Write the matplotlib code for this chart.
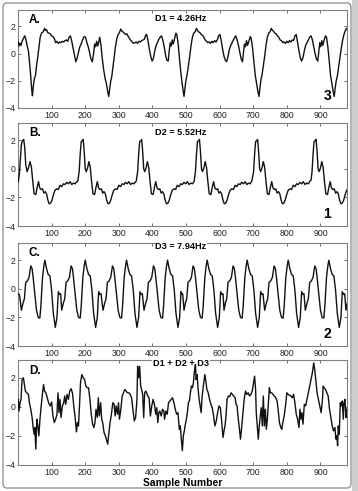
import matplotlib
matplotlib.use("Agg")
import matplotlib.pyplot as plt
from matplotlib.patches import FancyBboxPatch, Rectangle

plt.rcParams['font.family'] = ['Liberation Sans', 'DejaVu Sans']

# D1 = 4.26Hz (panel A)
d1_x = [1, 3, 6, 9, 12, 16, 20, 23, 27, 31, 35, 38, 41, 43, 46, 49, 52, 55, 58, 62, 66, 70, 75, 79,
        82, 85, 88, 92, 96, 100, 104, 108, 112, 116, 120, 124, 128, 132, 136, 140, 144, 148, 152, 156,
        160, 164, 168, 172, 176, 180, 184, 188, 192, 197, 201, 205, 209, 213, 217, 221, 225, 228, 231,
        234, 237, 240, 243, 247, 251, 255, 259, 263, 267, 270, 273, 276, 279, 282, 286, 290, 294, 298,
        302, 306, 309, 312, 316, 320, 324, 328, 332, 336, 340, 344, 348, 352, 356, 360, 364, 368, 372,
        376, 380, 383, 387, 391, 395, 399, 403, 407, 411, 415, 419, 423, 427, 431, 435, 439, 443, 447,
        450, 453, 456, 459, 462, 466, 470, 473, 477, 481, 485, 489, 494, 497, 500, 503, 507, 511, 515,
        519, 523, 527, 531, 534, 537, 541, 545, 549, 553, 557, 561, 565, 569, 573, 577, 581, 585, 589,
        593, 597, 601, 605, 609, 613, 617, 621, 625, 629, 633, 637, 641, 645, 648, 652, 656, 660, 664,
        668, 671, 674, 677, 680, 683, 687, 691, 694, 698, 702, 706, 710, 714, 717, 720, 723, 726, 730,
        734, 738, 742, 746, 750, 754, 757, 760, 764, 768, 772, 776, 780, 784, 788, 792, 796, 800, 804,
        808, 812, 816, 820, 824, 828, 832, 836, 840, 844, 848, 852, 856, 860, 864, 868, 872, 876, 880,
        884, 888, 892, 895, 898, 901, 904, 907, 911, 915, 918, 922, 926, 930, 934, 938, 941, 944, 947,
        950, 954, 958, 962, 966, 970, 974, 978, 980]
d1_y = [0.85, 0.55, 0.75, 0.6, 0.9, 1.1, 1.3, 1.1, 0.6, 0.2, -0.8, -1.7, -2.7, -3.1, -2.3, -1.8, -1.6,
        -0.9, -0.4, 0.4, 1.2, 1.5, 1.6, 1.85, 1.7, 1.75, 1.55, 1.5, 1.45, 1.3, 1.25, 1.1, 0.8, 0.9, 0.75,
        0.85, 0.8, 0.9, 0.85, 0.95, 1.0, 0.9, 1.2, 1.3, 0.9, 0.4, -0.1, -0.6, -0.35, 0.1, 0.5, 0.7, 1.0,
        1.25, 1.2, 0.8, 0.5, 0.1, -0.4, -0.6, 0.0, 0.7, 0.5, 0.9, 0.55, 0.8, 1.2, 0.6, -0.4, -1.2, -1.8,
        -2.2, -2.8, -3.15, -2.6, -2.0, -1.7, -1.1, -0.3, 0.5, 1.1, 1.4, 1.55, 1.8, 1.65, 1.6, 1.5, 1.4,
        1.45, 1.25, 1.1, 0.95, 0.85, 0.75, 0.8, 0.85, 0.75, 0.9, 0.85, 0.95, 1.0, 1.05, 1.35, 1.4, 0.9,
        0.3, -0.2, -0.55, -0.35, 0.2, 0.6, 0.8, 1.05, 1.2, 1.3, 1.0, 0.5, -0.1, -0.5, -0.55, 0.2, 0.8,
        0.55, 1.0, 0.7, 1.1, 1.5, 1.35, 0.6, -0.5, -1.5, -2.3, -3.15, -2.5, -1.9, -1.6, -0.9, -0.2, 0.6,
        1.2, 1.5, 1.6, 1.85, 1.7, 1.6, 1.55, 1.4, 1.35, 1.2, 1.0, 0.9, 0.8, 0.85, 0.75, 0.9, 0.8, 0.95,
        0.85, 1.0, 1.3, 1.4, 0.9, 0.3, -0.2, -0.5, -0.6, -0.2, 0.3, 0.6, 0.8, 1.0, 1.2, 1.3, 1.0, 0.6,
        0.1, -0.4, -0.6, 0.1, 0.7, 0.5, 0.95, 0.6, 0.9, 1.25, 1.1, 0.4, -0.6, -1.6, -2.2, -2.8, -3.15,
        -2.5, -1.9, -1.6, -0.9, -0.2, 0.6, 1.2, 1.5, 1.6, 1.85, 1.7, 1.65, 1.5, 1.45, 1.3, 1.2, 1.0,
        0.95, 0.8, 0.85, 0.75, 0.9, 0.8, 0.95, 0.85, 1.0, 0.95, 1.3, 1.4, 0.8, 0.2, -0.3, -0.55, -0.3,
        0.2, 0.6, 0.8, 1.0, 1.2, 1.3, 1.0, 0.5, 0.0, -0.4, -0.55, 0.1, 0.8, 0.5, 0.95, 0.6, 1.0, 1.3,
        1.2, 0.5, -0.5, -1.6, -2.2, -2.8, -3.15, -2.5, -2.0, -1.7, -1.0, -0.3, 0.4, 1.0, 1.4, 1.7, 1.85,
        1.8]

# D2 = 5.52Hz (panel B)
d2_x = [1, 4, 7, 10, 13, 17, 20, 23, 27, 31, 36, 40, 44, 48, 53, 57, 61, 65, 69, 73, 77, 81, 85, 89,
        93, 97, 101, 105, 110, 115, 120, 125, 130, 135, 140, 145, 150, 155, 160, 165, 170, 175,
        178, 182, 185, 188, 191, 194, 197, 200, 203, 207, 211, 215, 219, 223, 228, 232, 236, 240, 244,
        248, 252, 256, 260, 264, 268, 272, 276, 280, 285, 290, 295, 300, 305, 310, 315, 320, 325, 330,
        335, 340, 345, 350,
        352, 356, 359, 362, 365, 368, 371, 374, 377, 381, 385, 389, 393, 397, 402, 406, 410, 414, 418,
        422, 426, 430, 434, 438, 442, 446, 450, 454, 459, 464, 469, 474, 479, 484, 489, 494, 499, 504,
        509, 514, 519, 524,
        528, 531, 534, 537, 540, 543, 546, 549, 553, 557, 561, 565, 569, 574, 578, 582, 586, 590, 594,
        598, 602, 606, 610, 614, 618, 622, 626, 631, 636, 641, 646, 651, 656, 661, 666, 671, 676, 681,
        686, 691, 696,
        701, 704, 707, 710, 713, 716, 719, 722, 726, 730, 734, 738, 742, 747, 751, 755, 759, 763, 767,
        771, 775, 779, 783, 787, 791, 795, 799, 804, 809, 814, 819, 824, 829, 834, 839, 844, 849, 854,
        859, 864, 869,
        872, 875, 878, 881, 884, 887, 890, 893, 896, 900, 904, 908, 912, 916, 921, 925, 929, 933, 937,
        941, 945, 949, 953, 957, 961, 965, 969, 973, 978, 980]
d2_y = [-0.9, -0.4, 0.6, 1.7, 1.95, 2.05, 1.5, 0.3, -0.2, 0.05, 0.5, 0.1, -0.9, -1.75, -1.8, -1.3,
        -0.9, -1.35, -1.45, -1.4, -1.7, -1.6, -1.75, -2.2, -2.45, -2.4, -2.2, -1.85, -1.5, -1.4, -1.45,
        -1.15, -1.25, -1.05, -1.1, -0.95, -1.05, -0.9, -1.1, -1.0, -1.05, -0.9,
        -0.85, -0.2, 1.0, 1.9, 1.95, 2.05, 1.2, 0.0, -0.2, 0.05, 0.5, 0.1, -0.9, -1.75, -1.8, -1.3,
        -0.9, -1.35, -1.45, -1.4, -1.7, -1.6, -1.75, -2.2, -2.45, -2.4, -2.2, -1.85, -1.5, -1.4, -1.45,
        -1.15, -1.25, -1.05, -1.1, -0.95, -1.05, -0.9, -1.1, -1.0, -1.05, -0.9,
        -0.85, -0.2, 1.0, 1.9, 1.95, 2.05, 1.2, 0.0, -0.2, 0.05, 0.5, 0.1, -0.9, -1.75, -1.8, -1.3,
        -0.9, -1.35, -1.45, -1.4, -1.7, -1.6, -1.75, -2.2, -2.45, -2.4, -2.2, -1.85, -1.5, -1.4, -1.45,
        -1.15, -1.25, -1.05, -1.1, -0.95, -1.05, -0.9, -1.1, -1.0, -1.05, -0.9,
        -0.2, 1.0, 1.9, 1.95, 2.05, 1.2, 0.0, -0.2, 0.05, 0.5, 0.1, -0.9, -1.75, -1.8, -1.3, -0.9,
        -1.35, -1.45, -1.4, -1.7, -1.6, -1.75, -2.2, -2.45, -2.4, -2.2, -1.85, -1.5, -1.4, -1.45, -1.15,
        -1.25, -1.05, -1.1, -0.95, -1.05, -0.9, -1.1, -1.0, -1.05, -0.85,
        -0.2, 1.0, 1.9, 1.95, 2.05, 1.2, 0.0, -0.2, 0.05, 0.5, 0.1, -0.9, -1.75, -1.8, -1.3, -0.9,
        -1.35, -1.45, -1.4, -1.7, -1.6, -1.75, -2.2, -2.45, -2.4, -2.2, -1.85, -1.5, -1.4, -1.45, -1.15,
        -1.25, -1.05, -1.1, -0.95, -1.05, -0.9, -1.1, -1.0, -1.05, -0.85,
        -0.8, -0.2, 1.0, 1.9, 1.95, 2.05, 1.2, 0.0, -0.2, 0.05, 0.5, 0.1, -0.9, -1.75, -1.8, -1.3, -0.9,
        -1.35, -1.45, -1.4, -1.7, -1.6, -1.75, -2.2, -2.45, -2.4, -2.2, -1.85, -1.5, -1.45]

# D3 = 7.94Hz (panel C)
d3_x = [1, 4, 6,
        10, 15, 19, 23, 28, 33, 38, 42, 45, 50, 55, 60, 65, 68, 73, 77, 80, 85, 90, 95, 100, 105, 111,
        116, 120, 124, 127,
        130, 135, 139, 143, 148, 153, 158, 162, 165, 170, 175, 180, 185, 188, 193, 197, 200, 205, 210,
        215, 220, 225, 231, 236, 240, 244, 247,
        253, 258, 262, 266, 271, 276, 281, 285, 288, 293, 298, 303, 308, 311, 316, 320, 323, 328, 333,
        338, 343, 348, 354, 359, 363, 367, 370,
        375, 380, 384, 388, 393, 398, 403, 407, 410, 415, 420, 425, 430, 433, 438, 442, 445, 450, 455,
        460, 465, 470, 476, 481, 485, 488, 490,
        494, 498, 502, 506, 511, 516, 521, 525, 528, 533, 538, 543, 548, 551, 556, 560, 563, 568, 573,
        578, 583, 588, 594, 599, 603, 607, 610,
        613, 617, 621, 625, 630, 635, 640, 644, 647, 652, 657, 662, 667, 670, 675, 679, 682, 687, 692,
        697, 702, 707, 713, 718, 722, 726, 729,
        734, 739, 743, 747, 752, 757, 762, 766, 769, 774, 779, 784, 789, 792, 797, 801, 804, 809, 814,
        819, 824, 829, 835, 840, 844, 848, 851,
        855, 860, 864, 868, 873, 878, 883, 887, 890, 895, 900, 905, 910, 913, 918, 922, 925, 930, 935,
        940, 945, 950, 956, 961, 965, 969, 972, 976, 980]
d3_y = [-0.35, -0.4, -0.7,
        -1.5, -1.0, -0.7, 0.45, 0.55, 0.8, 1.6, 1.4, 0.8, -0.35, -1.5, -2.0, -2.05, -1.25, 0.8, 1.6,
        2.0, 1.4, 1.0, 0.9, -0.1, -1.7, -2.7, -2.0, -0.2, -0.4, -0.35,
        -1.5, -1.0, -0.7, 0.45, 0.55, 0.8, 1.6, 1.4, 0.8, -0.35, -1.5, -2.0, -2.05, -1.25, 0.8, 1.6,
        2.0, 1.4, 1.0, 0.9, -0.1, -1.7, -2.7, -2.0, -0.2, -0.4, -0.35,
        -1.5, -1.0, -0.7, 0.45, 0.55, 0.8, 1.6, 1.4, 0.8, -0.35, -1.5, -2.0, -2.05, -1.25, 0.8, 1.6,
        2.0, 1.4, 1.0, 0.9, -0.1, -1.7, -2.7, -2.0, -0.2, -0.4, -0.35,
        -1.5, -1.0, -0.7, 0.45, 0.55, 0.8, 1.6, 1.4, 0.8, -0.35, -1.5, -2.0, -2.05, -1.25, 0.8, 1.6,
        2.0, 1.4, 1.0, 0.9, -0.1, -1.7, -2.7, -2.0, -0.2, -0.4, -0.35,
        -1.5, -1.0, -0.7, 0.45, 0.55, 0.8, 1.6, 1.4, 0.8, -0.35, -1.5, -2.0, -2.05, -1.25, 0.8, 1.6,
        2.0, 1.4, 1.0, 0.9, -0.1, -1.7, -2.7, -2.0, -0.2, -0.4, -0.35,
        -1.5, -1.0, -0.7, 0.45, 0.55, 0.8, 1.6, 1.4, 0.8, -0.35, -1.5, -2.0, -2.05, -1.25, 0.8, 1.6,
        2.0, 1.4, 1.0, 0.9, -0.1, -1.7, -2.7, -2.0, -0.2, -0.4, -0.35,
        -1.5, -1.0, -0.7, 0.45, 0.55, 0.8, 1.6, 1.4, 0.8, -0.35, -1.5, -2.0, -2.05, -1.25, 0.8, 1.6,
        2.0, 1.4, 1.0, 0.9, -0.1, -1.7, -2.7, -2.0, -0.2, -0.4, -0.35,
        -1.5, -1.0, -0.7, 0.45, 0.55, 0.8, 1.6, 1.4, 0.8, -0.35, -1.5, -2.0, -2.05, -1.25, 0.8, 1.6,
        2.0, 1.4, 1.0, 0.9, -0.1, -1.7, -2.7, -2.0, -0.2, -0.4, -0.35, -1.5, -1.0]

# D1 + D2 + D3 (panel D)
dsum_x = [1, 3, 6, 9, 12, 16, 19, 22, 26, 31, 34, 38, 42, 45, 48, 50, 53, 56, 59, 62, 65, 68, 72, 76,
          79, 83, 87, 91, 96, 100, 104, 108, 112, 116, 119, 122, 125, 128, 132, 136, 139, 142, 146,
          150, 154, 158, 162, 166, 170, 174, 177, 180, 183, 186, 190, 194, 198, 202, 206, 210, 214,
          218, 222, 226, 229, 232, 236, 239, 242, 246, 249, 252, 256, 260, 264, 267, 270, 274, 278,
          282, 286, 289, 292, 296, 299, 302, 306, 310, 314, 318, 322, 326, 330, 334, 338, 342, 346,
          350, 354, 356, 359, 362, 365, 368, 371, 374, 377, 380, 383, 386, 390, 394, 398, 402, 406,
          410, 413, 416, 419, 422, 426, 430, 434, 436, 440, 444, 448, 452, 456, 460, 464, 468, 472,
          476, 480, 483, 486, 489, 492, 495, 498, 501, 504, 507, 510, 513, 516, 519, 522, 525, 528,
          530, 533, 536, 539, 542, 545, 548, 552, 556, 559, 562, 566, 570, 574, 578, 582, 586, 590,
          594, 598, 602, 606, 610, 613, 616, 619, 622, 626, 630, 634, 638, 642, 646, 649, 652, 655,
          659, 662, 665, 669, 673, 677, 681, 685, 689, 693, 697, 701, 704, 707, 709, 712, 715, 718,
          721, 724, 727, 730, 733, 736, 739, 742, 745, 748, 751, 755, 759, 763, 767, 771, 775, 778,
          782, 785, 788, 792, 796, 800, 804, 808, 812, 816, 820, 824, 828, 832, 836, 839, 842, 845,
          848, 852, 856, 860, 864, 868, 872, 876, 880, 883, 886, 890, 894, 898, 902, 906, 908, 911,
          915, 919, 923, 927, 931, 935, 939, 943, 946, 949, 951, 953, 956, 959, 962, 965, 968, 970,
          973, 976, 978]
dsum_y = [0.5, -0.3, 0.27, 0.5, 1.86, 1.98, 1.52, 1.07, 0.95, 0.84, 0.27, -0.18, -0.75, -1.43, -1.89,
          -1.43, -2.91, -0.86, -1.32, -2.0, -0.98, -0.18, 0.73, 1.52, 1.07, 0.95, 0.61, 0.27, 0.05,
          0.32, -0.64, -1.09, -0.86, -0.52, 0.95, -0.41, 0.5, -0.75, 0.05, 0.27, 0.73, 0.16, 0.84, 0.5,
          1.07, 1.23, 0.95, 0.05, -0.75, -1.73, -1.09, -1.32, 0.05, 1.64, 2.2, 1.98, 1.86, 1.41, 1.3,
          1.3, 0.5, -0.52, -1.2, -1.43, -1.09, -0.18, -0.75, 0.61, -0.64, 0.27, -0.86, -1.09, -1.77,
          -2.0, -2.34, -2.57, -1.89, -1.09, -0.52, 0.27, 0.16, -0.64, 0.05, -0.52, 0.27, -0.86, -0.18,
          0.73, 0.95, 1.18, 1.07, 0.95, 0.95, 0.84, 0.61, -0.18, -0.98, -0.75, 0.5, 2.77, 1.98, 2.77,
          1.41, 1.18, 0.84, -0.75, 0.95, 1.07, 0.95, 0.73, 0.61, -0.64, 0.05, 0.5, 0.16, -0.52, -0.07,
          -1.09, -0.41, -0.3, -0.64, -0.18, -0.3, -0.86, -0.3, -0.52, 0.27, 0.39, 0.5, 0.61, 0.27,
          -0.18, -0.52, -0.41, -1.55, -1.32, -2.23, -3.02, -2.0, -1.66, -1.2, -0.86, -0.41, 0.27, 0.39,
          0.95, 1.41, 1.3, 1.64, 2.43, 2.89, 1.86, 2.2, 1.18, 0.5, 0.05, -0.41, 0.73, 1.52, 2.2, 1.75,
          1.18, 0.95, 0.5, 0.16, -0.07, -0.64, -1.32, -0.98, -0.41, 0.05, -0.07, -0.98, -2.11, -1.66,
          -1.32, -0.64, 0.5, 0.73, 0.68, 0.95, 0.84, 0.73, 0.61, 0.16, 0.05, -0.75, -1.55, -2.23, -1.55,
          -0.52, 0.5, 1.07, 0.84, 0.95, 0.73, 0.84, 1.07, 1.64, 2.09, 1.18, -0.41, -1.32, -2.23, -1.32,
          -0.64, -0.07, -1.32, 0.73, -1.32, -0.18, -1.55, -0.86, 0.27, 1.3, 0.95, 0.95, 0.84, 0.73,
          0.61, 0.39, -0.41, -1.09, -1.43, -1.55, -1.09, -0.64, 0.05, 0.95, 0.84, 0.77, 0.73, 0.61,
          0.84, 0.27, -0.52, -0.86, -1.43, -0.18, -0.86, -0.41, -1.2, 0.16, 0.05, 0.5, 0.95, 1.41, 1.86,
          2.32, 3.0, 2.55, 1.86, 0.95, 0.5, 0.05, -0.41, 0.5, 1.41, 1.3, 1.18, 0.95, 0.73, -0.18, -0.75,
          -1.32, -1.66, -1.43, -2.23, -2.0, -2.68, -1.32, -1.89, 0.27, 0.05, 0.39, -0.86, 0.27, 0.5,
          -0.75, -0.18]

panels = [
    ("A.", "D1 = 4.26Hz", "3", d1_x, d1_y),
    ("B.", "D2 = 5.52Hz", "1", d2_x, d2_y),
    ("C.", "D3 = 7.94Hz", "2", d3_x, d3_y),
    ("D.", "D1 + D2 + D3", "", dsum_x, dsum_y),
]
# axes boxes in pixels (top, bottom) of a 358x491 figure
boxes = [(10, 108), (123, 226), (243, 346), (360, 465)]

W, H = 358, 491
fig = plt.figure(figsize=(W / 100, H / 100), dpi=100)

# outer frame of the figure, kept behind the axes
fig.patches.append(Rectangle((352 / W, 0), 1 - 352 / W, 1, transform=fig.transFigure,
                             facecolor="#cfcfcf", edgecolor="none", zorder=-2))
fig.patches.append(FancyBboxPatch((3 / W, 3 / H), 348 / W, 485 / H,
                                  boxstyle="round,pad=0,rounding_size=0.01",
                                  transform=fig.transFigure, facecolor="white",
                                  edgecolor="#8a8a8a", lw=0.9, zorder=-1))

for i, (letter, title, num, xs, ys) in enumerate(panels):
    top, bot = boxes[i]
    ax = fig.add_axes([18 / W, 1 - bot / H, (347 - 18) / W, (bot - top) / H])
    ax.plot(xs, ys, color="#111111", lw=1.0, zorder=3)
    ax.set_xlim(0, 979)
    ax.set_ylim(-4, 3.2)
    ax.set_xticks(range(100, 1000, 100))
    ax.set_yticks([-4, -2, 0, 2])
    ax.tick_params(direction="in", length=2.5, width=0.6, top=True, right=True,
                   labelsize=6.3, pad=2, colors="#555555", labelcolor="#222222")
    for s in ax.spines.values():
        s.set_color("#808080")
        s.set_linewidth(0.8)
    ax.text(0.033, 0.9, letter, transform=ax.transAxes, fontsize=8.5,
            fontweight="bold", ha="left", va="center")
    if i < 2:
        ax.text(0.495, 0.91, title, transform=ax.transAxes, fontsize=6.6,
                fontweight="bold", ha="center", va="center")
    else:
        ax.text(0.495, 0.97, title, transform=ax.transAxes, fontsize=6.6,
                fontweight="bold", ha="center", va="center", zorder=2.8,
                bbox=dict(facecolor="white", edgecolor="none", pad=0.5))
    if num:
        ax.text(0.94, 0.12, num, transform=ax.transAxes, fontsize=10,
                fontweight="bold", ha="center", va="center")
    if i == 3:
        ax.set_xlabel("Sample Number", fontsize=7.5, fontweight="bold", labelpad=1)

fig.savefig("out.png", dpi=100)
